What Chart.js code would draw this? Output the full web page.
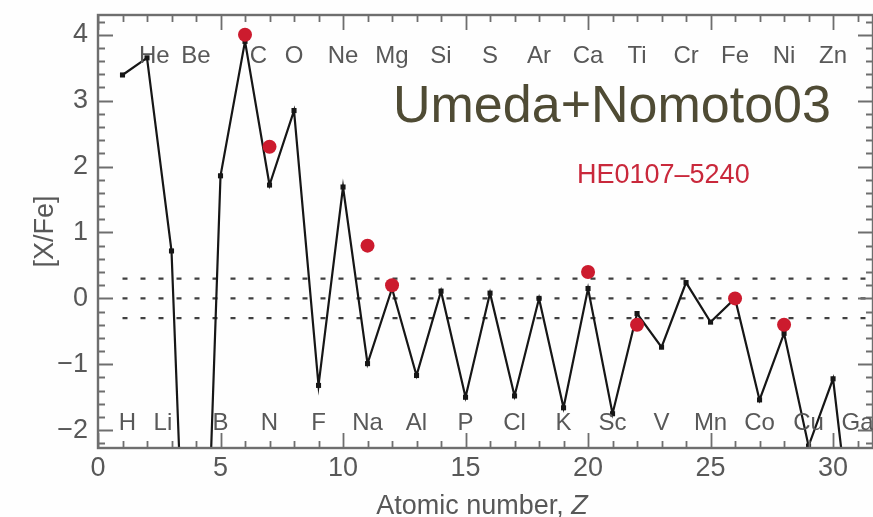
<!DOCTYPE html>
<html>
<head>
<meta charset="utf-8">
<script src="https://cdn.jsdelivr.net/npm/chart.js@4.4.1/dist/chart.umd.min.js"></script>
<style>
  html, body { margin: 0; padding: 0; background: #fefefe; overflow: hidden; }
  #wrap { width: 880px; height: 517px; }
</style>
</head>
<body>
<div id="wrap"><canvas id="chart" width="880" height="517"></canvas></div>
<script>
// [X/Fe] pattern of the Umeda & Nomoto (2003) model vs. the star HE0107-5240

const atomicZ = [1, 2, 3, 4, 5, 6, 7, 8, 9, 10, 11, 12, 13, 14, 15, 16,
                 17, 18, 19, 20, 21, 22, 23, 24, 25, 26, 27, 28, 29, 30, 31];
const symbols = ['H', 'He', 'Li', 'Be', 'B', 'C', 'N', 'O', 'F', 'Ne', 'Na', 'Mg',
                 'Al', 'Si', 'P', 'S', 'Cl', 'Ar', 'K', 'Ca', 'Sc', 'Ti', 'V', 'Cr',
                 'Mn', 'Fe', 'Co', 'Ni', 'Cu', 'Zn', 'Ga'];
const modelXFe = [3.39, 3.65, 0.72, -9.0, 1.86, 3.9, 1.72, 2.85, -1.32, 1.69,
                  -0.99, 0.15, -1.17, 0.11, -1.5, 0.08, -1.48, 0.0, -1.66, 0.15,
                  -1.75, -0.23, -0.74, 0.24, -0.36, 0.0, -1.54, -0.53, -2.24, -1.22, -4.4];

const starZ = [6, 7, 11, 12, 20, 22, 26, 28];
const starXFe = [4.0, 2.3, 0.8, 0.2, 0.4, -0.4, 0.0, -0.4];

const refLevels = [0.3, 0, -0.3];
const xTicks = [0, 5, 10, 15, 20, 25, 30];
const yTicks = [-2, -1, 0, 1, 2, 3, 4];

const X_MIN = 0, X_MAX = 31.63;
const Y_MIN = -2.27, Y_MAX = 4.30;

const GREY = '#585858';
const FRAME = '#6e6e6e';
const SANS = '"Liberation Sans", Arial, sans-serif';

const fmtTick = (v) => (v < 0 ? '\u2212' + Math.abs(v) : String(v));

// frame, inward ticks, element symbols and captions
const decorations = {
  id: 'decorations',
  afterDatasetsDraw(chart) {
    const { ctx, chartArea: a, scales: { x, y } } = chart;
    ctx.save();

    ctx.strokeStyle = FRAME;
    ctx.lineWidth = 2.4;
    ctx.strokeRect(a.left, a.top, a.right - a.left, a.bottom - a.top);

    ctx.lineWidth = 1.8;
    ctx.beginPath();
    for (let v = 0; v <= X_MAX; v += 1) {
      const px = Math.round(x.getPixelForValue(v)) + 0.5;
      const len = v % 5 === 0 ? 15 : 7;
      ctx.moveTo(px, a.bottom); ctx.lineTo(px, a.bottom - len);
      ctx.moveTo(px, a.top); ctx.lineTo(px, a.top + len);
    }
    for (let i = Math.ceil(Y_MIN * 5); i <= Math.floor(Y_MAX * 5); i++) {
      const py = Math.round(y.getPixelForValue(i / 5)) + 0.5;
      const len = i % 5 === 0 ? 15 : 7;
      ctx.moveTo(a.left, py); ctx.lineTo(a.left + len, py);
      ctx.moveTo(a.right, py); ctx.lineTo(a.right - len, py);
    }
    ctx.stroke();

    // element symbols: even Z along the top, odd Z along the bottom
    const nudge = { H: 0.2, He: 0.3, Li: -0.35, C: 0.55 };
    ctx.fillStyle = GREY;
    ctx.font = '24px ' + SANS;
    ctx.textAlign = 'center';
    ctx.textBaseline = 'alphabetic';
    symbols.forEach((s, i) => {
      const z = atomicZ[i] + (nudge[s] || 0);
      const px = x.getPixelForValue(z);
      const py = atomicZ[i] % 2 === 0 ? a.top + 48 : a.bottom - 18;
      ctx.fillText(s, px, py);
    });

    // model name and star name
    ctx.textAlign = 'left';
    ctx.fillStyle = '#4f4b34';
    ctx.font = '52px ' + SANS;
    ctx.fillText('Umeda+Nomoto03', 393, 122);
    ctx.fillStyle = '#c9283b';
    ctx.font = '27px ' + SANS;
    ctx.fillText('HE0107\u20135240', 577, 183);

    // axis titles
    ctx.fillStyle = GREY;
    ctx.font = '27px ' + SANS;
    const t1 = 'Atomic number, ';
    const w1 = ctx.measureText(t1).width;
    ctx.font = 'italic 27px ' + SANS;
    const w2 = ctx.measureText('Z').width;
    const x0 = (a.left + 866) / 2 - (w1 + w2) / 2;
    ctx.font = '27px ' + SANS;
    ctx.fillText(t1, x0, 514);
    ctx.font = 'italic 27px ' + SANS;
    ctx.fillText('Z', x0 + w1, 514);

    ctx.translate(53, (a.top + a.bottom) / 2);
    ctx.rotate(-Math.PI / 2);
    ctx.textAlign = 'center';
    ctx.font = '27px ' + SANS;
    ctx.fillText('[X/Fe]', 0, 0);
    ctx.restore();
  }
};

const refDatasets = refLevels.map((lvl) => ({
  type: 'line',
  data: [{ x: 1, y: lvl }, { x: X_MAX, y: lvl }],
  borderColor: '#404040',
  borderWidth: 2.4,
  borderDash: [5, 13],
  pointRadius: 0,
  order: 3,
}));

new Chart(document.getElementById('chart'), {
  type: 'line',
  data: {
    datasets: [
      ...refDatasets,
      {
        label: 'Umeda+Nomoto03',
        data: atomicZ.map((z, i) => ({ x: z, y: modelXFe[i] })),
        borderColor: '#161616',
        borderWidth: 2.2,
        pointStyle: 'rect',
        pointRadius: 3.6,
        pointBackgroundColor: '#161616',
        pointBorderWidth: 0,
        tension: 0,
        order: 2,
      },
      {
        label: 'HE0107-5240',
        data: starZ.map((z, i) => ({ x: z, y: starXFe[i] })),
        showLine: false,
        pointRadius: 7,
        pointBackgroundColor: '#cc1b2e',
        pointBorderWidth: 0,
        order: 1,
      },
    ],
  },
  options: {
    responsive: false,
    animation: false,
    events: [],
    layout: { padding: { left: 0, top: 15, right: 5, bottom: 0 } },
    plugins: { legend: { display: false }, tooltip: { enabled: false } },
    scales: {
      x: {
        type: 'linear', min: X_MIN, max: X_MAX,
        grid: { display: false, drawTicks: false },
        border: { display: false },
        afterBuildTicks: (s) => { s.ticks = xTicks.map((v) => ({ value: v })); },
        afterFit: (s) => { s.height = 69; s.paddingLeft = 0; s.paddingRight = 0; },
        ticks: {
          color: GREY, padding: 4, maxRotation: 0, autoSkip: false,
          font: { family: SANS, size: 27 },
          callback: fmtTick,
        },
      },
      y: {
        type: 'linear', min: Y_MIN, max: Y_MAX,
        grid: { display: false, drawTicks: false },
        border: { display: false },
        afterBuildTicks: (s) => { s.ticks = yTicks.map((v) => ({ value: v })); },
        afterFit: (s) => { s.width = 98; s.paddingTop = 0; s.paddingBottom = 0; },
        ticks: {
          color: GREY, padding: 10, autoSkip: false,
          font: { family: SANS, size: 27 },
          callback: fmtTick,
        },
      },
    },
  },
  plugins: [decorations],
});
</script>
</body>
</html>
